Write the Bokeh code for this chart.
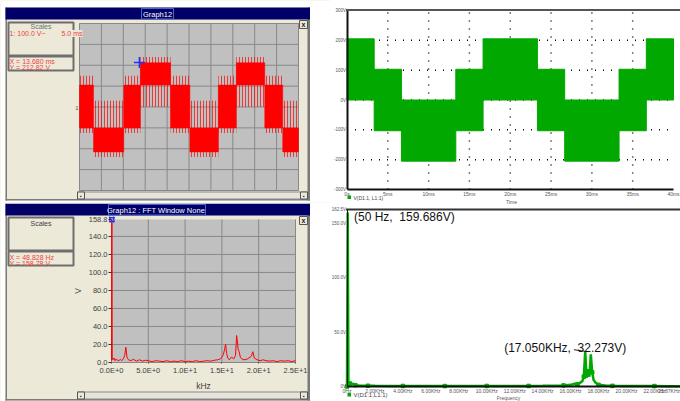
from bokeh.plotting import figure
from bokeh.models import BoxAnnotation, Label, FixedTicker
from bokeh.layouts import row, column
from bokeh.embed import file_html
from bokeh.resources import INLINE

# ---------------- data ----------------
# Graph12 scope trace (ms, V): staircase PWM bands
scope_seg_start_ms = [0.0, 3.2, 10.1, 13.9, 20.8, 25.2, 31.7, 35.8, 42.3, 46.4]
scope_seg_end_ms = [3.2, 10.1, 13.9, 20.8, 25.2, 31.7, 35.8, 42.3, 46.4, 50.0]
scope_core_low_v = [-100, -215, -100, 105, -100, -215, -100, 105, -100, -215]
scope_core_high_v = [105, -100, 105, 212, 105, -100, 105, 212, 105, -100]
scope_spike_low_v = [-125, -240, -125, 0, -125, -240, -125, 0, -125, -240]
scope_spike_high_v = [150, 30, 150, 240, 150, 30, 150, 240, 150, 30]
scope_cursor_ms = [13.68]
scope_cursor_v = [212.82]
scope_time_grid_ms = [0, 5, 10, 15, 20, 25, 30, 35, 40, 45, 50]
scope_volt_grid_v = [-400, -300, -200, -100, 0, 100, 200, 300, 400]

# Graph12 FFT (kHz, V)
fft_khz = [0.0, 0.049, 0.1, 0.2, 0.35, 0.5, 0.65, 0.8, 1.0, 1.2, 1.4, 1.6, 1.8, 1.95, 2.1, 2.3, 2.6,
           3.0, 3.4, 3.8, 4.2, 4.6, 5.0, 5.5, 6.0, 6.5, 7.0, 7.5, 8.0, 8.5, 9.0, 9.5, 10.0, 10.5,
           11.0, 11.5, 12.0, 12.5, 13.0, 13.5, 14.0, 14.4, 14.8, 15.0, 15.2, 15.35, 15.5, 15.65,
           15.8, 16.0, 16.3, 16.6, 16.85, 17.0, 17.1, 17.2, 17.35, 17.5, 17.7, 18.0, 18.5, 19.0,
           19.2, 19.4, 19.8, 20.2, 20.6, 21.0, 21.5, 22.0, 22.5, 23.0, 23.5, 24.0, 24.5, 25.0]
fft_v = [2.0, 158.8, 5.0, 3.0, 5.0, 2.0, 4.0, 2.5, 2.0, 3.5, 2.0, 4.0, 8.0, 17.0, 6.0, 3.0, 2.0,
         3.5, 1.5, 3.0, 1.5, 2.5, 2.0, 1.0, 2.0, 1.5, 1.0, 2.0, 1.0, 1.5, 1.0, 2.0, 1.0, 1.5,
         1.0, 2.0, 1.0, 1.5, 2.0, 1.5, 2.5, 3.0, 4.0, 6.0, 9.0, 14.0, 20.0, 10.0,
         5.0, 3.0, 6.0, 4.0, 8.0, 30.0, 24.0, 15.0, 12.0, 6.0, 4.0, 3.0, 4.0, 7.0,
         12.0, 5.0, 3.0, 2.0, 3.0, 2.0, 1.5, 2.0, 1.0, 2.0, 1.5, 2.0, 1.0, 2.0]
fft_cursor_khz = [0.048828]
fft_cursor_v = [158.78]
fft_y_ticks = [0, 20, 40, 60, 80, 100, 120, 140, 158.8]
fft_y_labels = ["0.0", "20.0", "40.0", "60.0", "80.0", "100.0", "120.0", "140.0", "158.8"]
fft_x_ticks = [0, 5, 10, 15, 20, 25]
fft_x_labels = ["0.0E+0", "5.0E+0", "1.0E+1", "1.5E+1", "2.0E+1", "2.5E+1"]

# PSpice time trace V(D1:1,L1:1) (ms, V)
psp_seg_start_ms = [0.0, 3.33, 6.67, 13.33, 16.67, 23.33, 26.67, 33.33, 36.67]
psp_seg_end_ms = [3.33, 6.67, 13.33, 16.67, 23.33, 26.67, 33.33, 36.67, 40.0]
psp_low_v = [0, -103, -205, -103, 0, -103, -205, -103, 0]
psp_high_v = [205, 103, 0, 103, 205, 103, 0, 103, 205]
psp_y_ticks = [-300, -200, -100, 0, 100, 200, 300]
psp_y_labels = ["-300V", "-200V", "-100V", "0V", "100V", "200V", "300V"]
psp_x_ticks = [0, 5, 10, 15, 20, 25, 30, 35, 40]
psp_x_labels = ["0s", "5ms", "10ms", "15ms", "20ms", "25ms", "30ms", "35ms", "40ms"]
psp_grid_x = [5, 10, 15, 20, 25, 30, 35]
psp_grid_y = [-200, -100, 0, 100, 200]

# PSpice FFT (kHz, V)
spec_khz = [0.0, 0.05, 0.1, 0.2, 0.3, 0.45, 0.6, 0.8, 1.0, 1.5, 2.0, 3.0, 4.0, 5.0, 6.0, 7.0, 8.0,
            9.0, 10.0, 11.0, 12.0, 13.0, 14.0, 15.0, 15.5, 16.0, 16.3, 16.5, 16.7, 16.85, 16.95,
            17.05, 17.15, 17.25, 17.35, 17.45, 17.55, 17.65, 17.8, 18.0, 18.3, 18.6, 19.0, 20.0,
            21.0, 22.0, 23.0, 23.87]
spec_v = [0.0, 159.686, 1.5, 2.8, 2.0, 2.5, 1.2, 1.0, 0.8, 0.7, 0.6, 0.5, 0.5, 0.4, 0.5, 0.4, 0.4,
          0.4, 0.5, 0.4, 0.5, 0.5, 0.6, 0.8, 1.0, 1.5, 2.5, 2.0, 3.5, 5.0, 9.0,
          32.273, 8.0, 14.0, 9.0, 29.5, 13.0, 6.0, 3.5, 1.5, 1.2, 0.8, 0.6, 0.5,
          0.4, 0.4, 0.3, 0.3]
spec_peak1 = (0.05, 159.686, "(50 Hz,\u00a0 159.686V)")
spec_peak2 = (17.05, 32.273, "(17.050KHz,\u00a0 32.273V)")
spec_y_ticks = [0, 50, 100, 150, 162.5]
spec_y_labels = ["0V", "50.0V", "100.0V", "150.0V", "162.5V"]
spec_x_ticks = [0, 2, 4, 6, 8, 10, 12, 14, 16, 18, 20, 22]
spec_x_labels = ["0Hz", "2.00KHz", "4.00KHz", "6.00KHz", "8.00KHz", "10.00KHz", "12.00KHz",
                 "14.00KHz", "16.00KHz", "18.00KHz", "20.00KHz", "22.00KHz"]
spec_x_end_label = "23.87KHz"

FONT = "Liberation Sans"
BEIGE = "#ECE9D8"
NAVY = "#000066"
TXT_RED = "#EE4444"
GREEN = "#00A800"


class Panel:
    """A figure whose frame fills its canvas; the plot area (data box) sits at a
    given pixel box, so that axes (fixed_location) and window chrome can live
    inside the frame."""
    def __init__(self, W, H, ox, oy, area_px, xdata, ydata, bg, axes=True):
        px0, py0, px1, py1 = area_px          # page pixels of plot area
        self.ox, self.oy, self.W, self.H = ox, oy, W, H
        cx0, cx1 = px0 - ox, px1 - ox
        cy0, cy1 = py0 - oy, py1 - oy
        sx = (xdata[1] - xdata[0]) / (cx1 - cx0)
        sy = (ydata[1] - ydata[0]) / (cy1 - cy0)
        self.xr = (xdata[0] - cx0 * sx, xdata[0] + (W - cx0) * sx)
        self.yr = (ydata[1] - (H - cy0) * sy, ydata[1] + cy0 * sy)
        kw = {} if axes else dict(x_axis_type=None, y_axis_type=None)
        self.p = figure(width=W, height=H, x_range=self.xr, y_range=self.yr,
                        output_backend="svg", toolbar_location=None, min_border=0,
                        min_border_left=0, min_border_right=0, min_border_top=0,
                        min_border_bottom=0, **kw)
        self.p.outline_line_color = None
        self.p.background_fill_color = bg
        self.p.border_fill_color = bg
        self.p.grid.visible = False

    def X(self, px):
        return self.xr[0] + (px - self.ox) / self.W * (self.xr[1] - self.xr[0])

    def Y(self, py):
        return self.yr[1] - (py - self.oy) / self.H * (self.yr[1] - self.yr[0])

    def box(self, x0, y0, x1, y1, fill=None, line=None, lw=1):
        self.p.add_layout(BoxAnnotation(
            left=self.X(x0), right=self.X(x1), top=self.Y(y0), bottom=self.Y(y1),
            fill_color=fill if fill else "white", fill_alpha=1.0 if fill else 0.0,
            line_color=line if line else "white", line_alpha=1.0 if line else 0.0,
            line_width=lw))

    def text(self, x, y, s, size="7px", color="black", align="left", bg=None, style="normal"):
        kw = {}
        if bg:
            kw = dict(background_fill_color=bg, background_fill_alpha=1.0)
        self.p.add_layout(Label(x=self.X(x), y=self.Y(y), text=s, text_font=FONT,
                                text_font_size=size, text_color=color, text_align=align,
                                text_baseline="middle", text_font_style=style, **kw))


def window_chrome(f, top, bottom, title, tb_x0, tb_x1):
    f.box(0, top - 1, 5, bottom + 1, fill="white")
    f.box(309.5, top - 1, 330, bottom + 1, fill="white")
    f.box(5, top, 6.5, bottom, fill="#7A7A7A")
    f.box(307, top, 309.5, bottom, fill="#7A7A7A")
    f.box(5, bottom - 1.5, 309.5, bottom, fill="#7A7A7A")
    f.box(5, top, 309.5, top + 12, fill=NAVY)
    f.box(tb_x0, top + 1, tb_x1, top + 11.5, line="#4A64C8")
    f.text((tb_x0 + tb_x1) / 2, top + 6.5, title, size="7.5px", color="white", align="center")
    sy = bottom - 8.5
    f.box(77, sy, 307, sy + 7, fill="#E6E4DA", line="#8A8A8A")
    f.box(77, sy, 84, sy + 7, fill=BEIGE, line="#555555")
    f.box(300, sy, 307, sy + 7, fill=BEIGE, line="#555555")
    f.text(80.5, sy + 3.5, "\u25aa", size="5px", color="#222", align="center")
    f.text(303.5, sy + 3.5, "\u25aa", size="5px", color="#222", align="center")
    f.box(299, top + 13, 307, top + 21, fill=BEIGE, line="#555555")
    f.text(303, top + 16.5, "x", size="7px", color="#222", align="center", style="bold")


# ---------------- left top: Graph12 scope ----------------
SC_T, SC_V = (0, 50), (-400, 400)
f1 = Panel(330, 202, 0, 0, (79, 23, 298, 190), SC_T, SC_V, BEIGE, axes=False)
p1 = f1.p
p1.quad(left=[SC_T[0]], right=[SC_T[1]], bottom=[SC_V[0]], top=[SC_V[1]],
        fill_color="#C0C0C0", line_color="#9A9A9A")
p1.segment(x0=scope_time_grid_ms, x1=scope_time_grid_ms,
           y0=[SC_V[0]] * len(scope_time_grid_ms), y1=[SC_V[1]] * len(scope_time_grid_ms),
           line_color="#888888", line_width=1)
p1.segment(x0=[SC_T[0]] * len(scope_volt_grid_v), x1=[SC_T[1]] * len(scope_volt_grid_v),
           y0=scope_volt_grid_v, y1=scope_volt_grid_v, line_color="#888888", line_width=1)
p1.quad(left=scope_seg_start_ms, right=scope_seg_end_ms, bottom=scope_spike_low_v,
        top=scope_spike_high_v, fill_alpha=0, line_alpha=0,
        hatch_pattern="vertical_line", hatch_color="#FF0000", hatch_alpha=0.7,
        hatch_scale=3, hatch_weight=1)
p1.quad(left=scope_seg_start_ms, right=scope_seg_end_ms, bottom=scope_core_low_v,
        top=scope_core_high_v, fill_color="#FF0000", line_color="#FF0000", line_width=0.5)
p1.scatter(scope_cursor_ms, scope_cursor_v, marker="cross", size=11, line_color="#2030FF",
           line_width=1.5)
f1.box(0, 0, 330, 7, fill="white")
f1.box(0, 200, 330, 202, fill="white")
window_chrome(f1, 7, 200, "Graph12", 141, 173)
f1.box(8, 22, 73, 55, line="#6E6E6E", lw=2)
f1.text(40.5, 26, "Scales", color="#707070", align="center")
f1.text(9, 33, "1: 100.0 V~", color=TXT_RED)
f1.text(61, 33, "5.0 ms", color=TXT_RED, bg=BEIGE)
f1.box(8, 56, 73, 70, line="#6E6E6E", lw=2)
f1.text(9, 61, "X =  13.680 ms", color=TXT_RED)
f1.text(9, 67, "Y =   212.82 V", color=TXT_RED)
f1.text(76.5, 107, "1", size="6px", color="#555555", align="center")

# ---------------- left bottom: Graph12 FFT ----------------
FF_X, FF_Y = (0, 25), (0, 158.8)
f2 = Panel(330, 199, 0, 202, (111, 219, 295, 362), FF_X, FF_Y, BEIGE)
p2 = f2.p
p2.quad(left=[FF_X[0]], right=[FF_X[1]], bottom=[FF_Y[0]], top=[FF_Y[1]],
        fill_color="#C0C0C0", line_color=None)
p2.segment(x0=fft_x_ticks, x1=fft_x_ticks, y0=[FF_Y[0]] * len(fft_x_ticks),
           y1=[FF_Y[1]] * len(fft_x_ticks), line_color="#888888", line_width=1)
gy = fft_y_ticks[:-1]
p2.segment(x0=[FF_X[0]] * len(gy), x1=[FF_X[1]] * len(gy), y0=gy, y1=gy,
           line_color="#888888", line_width=1)
p2.line(fft_khz, fft_v, line_color="#FF0000", line_width=1)
p2.scatter(fft_cursor_khz, fft_cursor_v, marker="square_pin", size=5, line_color="#2030FF",
           line_width=1.5, fill_alpha=0)
xa, ya = p2.xaxis[0], p2.yaxis[0]
xa.fixed_location = FF_Y[0]
ya.fixed_location = FF_X[0]
xa.bounds = FF_X
ya.bounds = FF_Y
xa.ticker = FixedTicker(ticks=fft_x_ticks)
ya.ticker = FixedTicker(ticks=fft_y_ticks)
xa.major_label_overrides = dict(zip(fft_x_ticks, fft_x_labels))
ya.major_label_overrides = dict(zip(fft_y_ticks, fft_y_labels))
xa.axis_label = "kHz"
ya.axis_label = "V"
for ax in (xa, ya):
    ax.axis_line_color = None
    ax.minor_tick_line_color = None
    ax.major_tick_in = 0
    ax.major_tick_out = 3
    ax.major_tick_line_color = "#333333"
    ax.major_label_text_font = FONT
    ax.major_label_text_font_size = "7.5px"
    ax.major_label_text_color = "#404040"
    ax.major_label_standoff = 1
    ax.axis_label_text_font = FONT
    ax.axis_label_text_font_size = "8.5px"
    ax.axis_label_text_font_style = "normal"
    ax.axis_label_text_color = "#404040"
    ax.axis_label_standoff = 3
xa.major_tick_out = 1
xa.major_label_standoff = 2
window_chrome(f2, 203, 400, "Graph12 : FFT  Window None", 108, 205)
f2.box(0, 202, 330, 203, fill="white")
f2.box(8, 217, 73, 250, line="#6E6E6E", lw=2)
f2.text(40.5, 223, "Scales", color="#404040", align="center")
f2.box(8, 251, 73, 265, line="#6E6E6E", lw=2)
f2.text(9, 257, "X =  48.828 Hz", color=TXT_RED)
f2.text(9, 263, "Y =   158.78 V", color=TXT_RED)


def pspice_axes(p, xt, xl, yt, yl, xdata, ydata, yline=2):
    xa, ya = p.xaxis[0], p.yaxis[0]
    xa.fixed_location = ydata[0]
    ya.fixed_location = xdata[0]
    xa.bounds = xdata
    ya.bounds = ydata
    xa.ticker = FixedTicker(ticks=xt)
    ya.ticker = FixedTicker(ticks=yt)
    xa.major_label_overrides = dict(zip(xt, xl))
    ya.major_label_overrides = dict(zip(yt, yl))
    for ax in (xa, ya):
        ax.axis_line_color = "#111111"
        ax.axis_line_width = 2
        ax.major_tick_in = 0
        ax.major_tick_out = 0
        ax.minor_tick_in = 0
        ax.minor_tick_out = 0
        ax.major_tick_line_color = None
        ax.minor_tick_line_color = None
        ax.major_label_text_font = FONT
        ax.major_label_text_font_size = "5px"
        ax.major_label_text_color = "#555555"
        ax.major_label_standoff = 1
    ya.axis_line_width = yline
    ya.major_label_text_font_size = "4.5px"


# ---------------- right top: PSpice time ----------------
PT_X, PT_Y = (0, 40), (-300, 300)
f3 = Panel(350, 205, 330, 0, (346.5, 10, 673, 189), PT_X, PT_Y, "white")
p3 = f3.p
p3.segment(x0=psp_grid_x, x1=psp_grid_x, y0=[PT_Y[0]] * len(psp_grid_x),
           y1=[PT_Y[1]] * len(psp_grid_x), line_color="black", line_width=1.5,
           line_dash="1 7")
p3.segment(x0=[PT_X[0]] * len(psp_grid_y), x1=[PT_X[1]] * len(psp_grid_y),
           y0=psp_grid_y, y1=psp_grid_y, line_color="black", line_width=1.5,
           line_dash="1 7")
p3.quad(left=psp_seg_start_ms, right=psp_seg_end_ms, bottom=psp_low_v, top=psp_high_v,
        fill_color=GREEN, line_color=GREEN, line_width=1)
pspice_axes(p3, psp_x_ticks, psp_x_labels, psp_y_ticks, psp_y_labels, PT_X, PT_Y)
f3.box(345.5, 8.5, 680, 10.5, fill="#555555")
f3.box(347, 195, 350.5, 198.5, fill=GREEN)
f3.text(353, 197, "V(D1:1, L1:1)", size="5px", color="#444444")
f3.text(511, 201, "Time", size="5px", color="#555555", align="center")

# ---------------- right bottom: PSpice FFT ----------------
PF_X, PF_Y = (0, 23.87), (0, 162.5)
f4 = Panel(350, 196, 330, 205, (346.5, 209, 680, 386), PF_X, PF_Y, "white")
p4 = f4.p
p4.line(spec_khz, spec_v, line_color=GREEN, line_width=2.5)
p4.scatter(spec_khz[::3], spec_v[::3], marker="square", size=3.5, color=GREEN)
p4.segment(x0=[spec_peak2[0] - 0.8], y0=[spec_peak2[1] + 1.5], x1=[spec_peak2[0]],
           y1=[spec_peak2[1]], line_color="#222222", line_width=1)
pspice_axes(p4, spec_x_ticks, spec_x_labels, spec_y_ticks, spec_y_labels, PF_X, PF_Y,
            yline=1)
p4.add_layout(Label(x=spec_peak1[0] + 0.45, y=spec_peak1[1] - 4, text=spec_peak1[2],
                    text_font=FONT, text_font_size="12px", text_color="#111111",
                    text_baseline="middle"))
p4.add_layout(Label(x=spec_peak2[0] - 5.8, y=spec_peak2[1] + 3.5, text=spec_peak2[2],
                    text_font=FONT, text_font_size="12px", text_color="#111111",
                    text_baseline="middle"))
f4.box(345.5, 208, 680, 210, fill="#333333")
f4.text(679.5, 390, spec_x_end_label, size="5px", color="#555555", align="right")
f4.box(347, 392.5, 350.5, 396, fill=GREEN)
f4.text(353, 394.5, "V(D1:1,L1:1)", size="6px", color="#444444")
f4.text(508, 397.5, "Frequency", size="5px", color="#555555", align="center")

layout = row(column(row(p1), row(p2)), column(p3, p4))
open("out.html", "w").write(file_html(layout, INLINE))
